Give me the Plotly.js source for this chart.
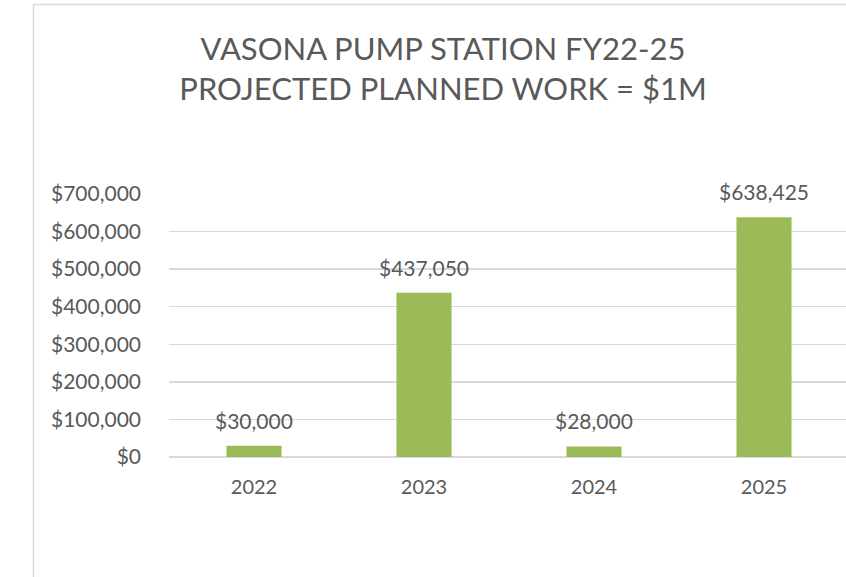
<!DOCTYPE html>
<html>
<head>
<meta charset="utf-8">
<script src="https://cdn.plot.ly/plotly-3.0.1.min.js"></script>
<style>html,body{margin:0;padding:0;background:#fff;}#chart{width:846px;height:577px;}</style>
</head>
<body>
<div id="chart"></div>
<script>
var categories = ["2022", "2023", "2024", "2025"];
var values = [30000, 437050, 28000, 638425];
var valueLabels = ["$30,000", "$437,050", "$28,000", "$638,425"];
var tickValues = [0, 100000, 200000, 300000, 400000, 500000, 600000, 700000];
var tickLabels = ["$0", "$100,000", "$200,000", "$300,000", "$400,000", "$500,000", "$600,000", "$700,000"];
var titleText = "VASONA PUMP STATION FY22-25<br>PROJECTED PLANNED WORK = $1M";

var textColor = "#595959";
var gridColor = "#d9d9d9";
var font = "Lato, 'Open Sans', sans-serif";

var W = 846, H = 577;
var mL = 169, mR = 0, mT = 194, mB = 120;
var pw = W - mL - mR, ph = H - mT - mB;
function px(x){ return (x - mL) / pw; }
function py(y){ return (H - mB - y) / ph; }

var trace = {
  type: "bar",
  x: categories,
  y: values,
  marker: {color: "#9BBB59"},
  hoverinfo: "skip"
};

var annotations = categories.map(function(c, i){
  return {
    x: i, y: values[i], xref: "x", yref: "y",
    text: valueLabels[i], showarrow: false,
    yanchor: "bottom", yshift: 11,
    font: {family: font, size: 21, color: textColor}
  };
});

var layout = {
  width: W, height: H,
  margin: {l: mL, r: mR, t: mT, b: mB, pad: 0},
  paper_bgcolor: "#ffffff",
  plot_bgcolor: "#ffffff",
  showlegend: false,
  bargap: 0.676,
  title: {
    text: titleText,
    font: {family: font, size: 31, color: textColor, lineposition: "none"},
    x: 443 / W, xref: "container", xanchor: "center",
    y: 1 - 60 / H, yref: "container", yanchor: "top"
  },
  xaxis: {
    type: "category",
    range: [-0.5, -0.5 + pw / 170],
    showgrid: false, zeroline: false, showline: false,
    ticks: "", ticklabelstandoff: 16,
    tickfont: {family: font, size: 20, color: textColor},
    fixedrange: true
  },
  yaxis: {
    range: [0, 700000],
    tickvals: tickValues, ticktext: tickLabels,
    showgrid: true, gridcolor: gridColor, gridwidth: 1.5,
    zeroline: true, zerolinecolor: gridColor, zerolinewidth: 1.5,
    showline: false, ticks: "", ticklabelstandoff: 27,
    tickfont: {family: font, size: 21, color: textColor},
    fixedrange: true
  },
  annotations: annotations,
  shapes: [
    {type: "line", xref: "paper", yref: "paper", x0: px(33.5), x1: px(33.5), y0: py(4), y1: py(578), line: {color: gridColor, width: 1.5}},
    {type: "line", xref: "paper", yref: "paper", x0: px(33), x1: px(847), y0: py(4.5), y1: py(4.5), line: {color: gridColor, width: 1.5}}
  ]
};

Plotly.newPlot("chart", [trace], layout, {displayModeBar: false, staticPlot: true});
</script>
</body>
</html>
